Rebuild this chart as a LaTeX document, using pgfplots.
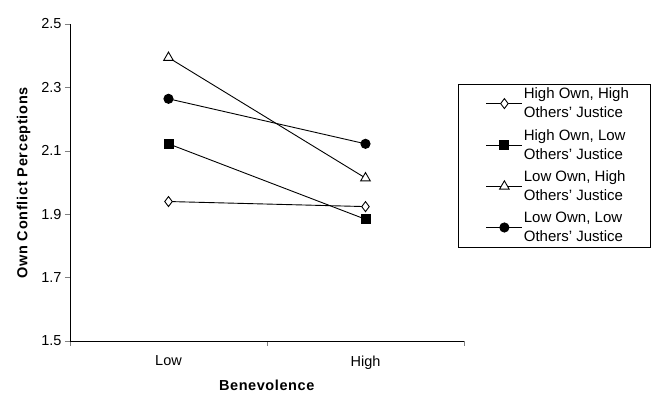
\documentclass[border=0pt]{standalone}
\usepackage{fontspec}
\setmainfont{Liberation Sans}
\usepackage{pgfplots}
\pgfplotsset{compat=1.18}
\begin{document}
\begin{tikzpicture}
\useasboundingbox (-70pt,-53pt) rectangle (587pt,341pt);
\begin{axis}[
  at={(0,0)}, anchor=south west,
  scale only axis, width=394pt, height=317pt,
  xmin=0, xmax=4, ymin=1.5, ymax=2.5,
  axis x line*=bottom, axis y line*=left,
  xtick={1,3}, xticklabels={Low,High},
  minor xtick={0,2,4},
  major x tick style={draw=none},
  minor tick length=5pt, major tick length=5pt,
  tick align=outside,
  ytick={1.5,1.7,...,2.5},
  yticklabel style={/pgf/number format/fixed,/pgf/number format/fixed zerofill,/pgf/number format/precision=1},
  /pgf/number format/assume math mode=true,
  ticklabel style={font=\fontsize{14.5}{17}\selectfont},
  xticklabel style={yshift=-6pt},
  xlabel={\textbf{\addfontfeature{LetterSpace=4}Benevolence}},
  ylabel={\textbf{\addfontfeature{LetterSpace=5}Own Conflict Perceptions}},
  label style={font=\fontsize{14.5}{17}\selectfont},
  xlabel style={yshift=-4pt},
  ylabel style={yshift=4pt},
  axis line style={black, line width=0.9pt},
  every axis plot/.append style={black, line width=0.9pt},
  legend style={at={(0.985,0.812)}, anchor=north west, draw=black, line width=0.6pt,
    font=\fontsize{15}{19}\selectfont, nodes={align=left, inner sep=1pt},
    row sep=8pt, inner xsep=2pt, inner ysep=3pt},
  legend cell align=left,
  legend image code/.code={\path[draw=none] (0pt,0pt) -- (26pt,0pt); \draw[#1] (26pt,0pt) -- (62pt,0pt); \draw[#1] plot coordinates {(44pt,0pt)};},
]
\addplot[mark=diamond*, mark options={fill=white}, mark size=5pt] coordinates {(1,1.940) (3,1.924)};
\addlegendentry{High Own, High\hspace*{18pt}\\Others' Justice}
\addplot[mark=square*, mark options={fill=black}, mark size=4.5pt] coordinates {(1,2.122) (3,1.884)};
\addlegendentry{High Own, Low\\Others' Justice}
\addplot[mark=triangle*, mark options={fill=white}, mark size=5.5pt] coordinates {(1,2.394) (3,2.014)};
\addlegendentry{Low Own, High\\Others' Justice}
\addplot[mark=*, mark options={fill=black}, mark size=4.6pt] coordinates {(1,2.264) (3,2.122)};
\addlegendentry{Low Own, Low\\Others' Justice}
\end{axis}
\end{tikzpicture}
\end{document}
